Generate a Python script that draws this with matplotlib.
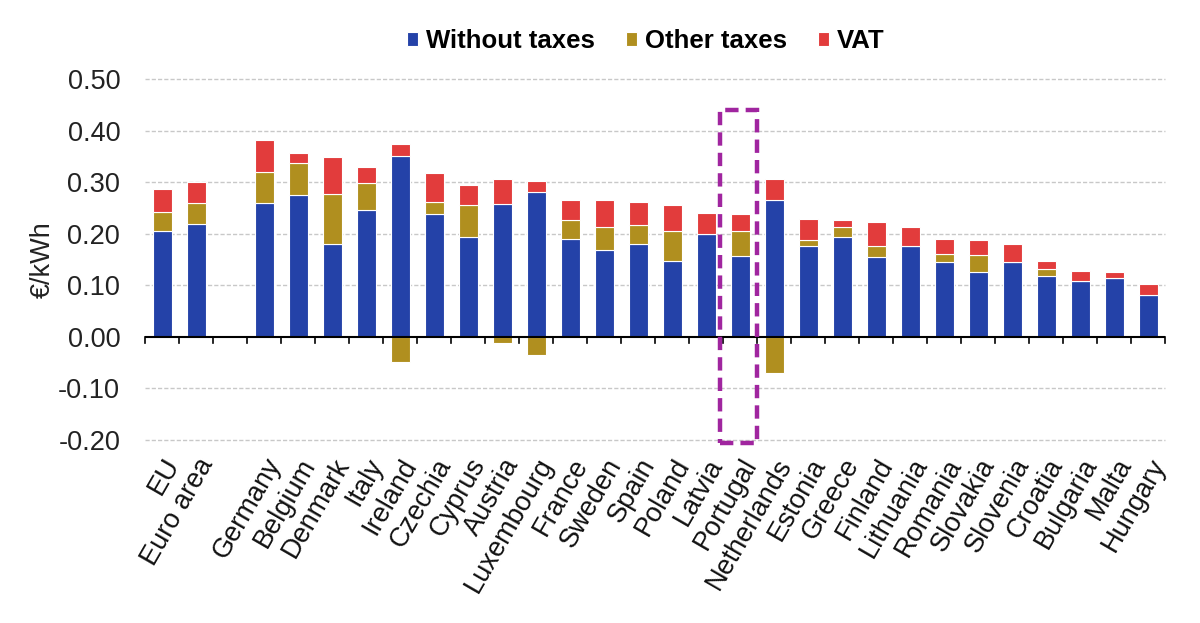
import numpy as np
import matplotlib
matplotlib.use('Agg')
import matplotlib.pyplot as plt
from matplotlib.patches import Rectangle

plt.rcParams['font.family'] = ['Liberation Sans', 'DejaVu Sans']

# data (EUR/kWh), '' = empty slot between aggregates and countries
countries = ['EU', 'Euro area', '', 'Germany', 'Belgium', 'Denmark', 'Italy', 'Ireland',
             'Czechia', 'Cyprus', 'Austria', 'Luxembourg', 'France', 'Sweden', 'Spain',
             'Poland', 'Latvia', 'Portugal', 'Netherlands', 'Estonia', 'Greece', 'Finland',
             'Lithuania', 'Romania', 'Slovakia', 'Slovenia', 'Croatia', 'Bulgaria', 'Malta',
             'Hungary']
without_taxes = [0.205, 0.219, np.nan, 0.259, 0.275, 0.181, 0.246, 0.350,
                 0.239, 0.193, 0.258, 0.281, 0.190, 0.169, 0.180,
                 0.148, 0.200, 0.157, 0.265, 0.176, 0.193, 0.154,
                 0.176, 0.145, 0.125, 0.145, 0.117, 0.109, 0.115, 0.082]
other_taxes = [0.037, 0.040, np.nan, 0.061, 0.062, 0.097, 0.052, -0.048,
               0.022, 0.062, -0.012, -0.035, 0.036, 0.044, 0.037,
               0.058, 0.0, 0.049, -0.071, 0.011, 0.020, 0.023,
               0.0, 0.016, 0.033, 0.0, 0.015, 0.0, 0.0, 0.0]
vat = [0.045, 0.041, np.nan, 0.062, 0.019, 0.071, 0.031, 0.025,
       0.056, 0.039, 0.049, 0.022, 0.039, 0.052, 0.044,
       0.049, 0.041, 0.033, 0.042, 0.042, 0.013, 0.045,
       0.037, 0.029, 0.029, 0.035, 0.016, 0.019, 0.011, 0.020]
highlight = 'Portugal'

c_blue = '#2442a8'
c_gold = '#b08f1f'
c_red = '#e23c3c'

x = np.arange(len(countries))
wt = np.array(without_taxes)
ot = np.array(other_taxes)
va = np.array(vat)

# positive other taxes sit on top of the price, negative ones hang below zero
ot_bottom = np.where(ot >= 0, wt, 0)
vat_bottom = wt + np.where(ot >= 0, ot, 0)

fig = plt.figure(figsize=(12, 6.23), dpi=100)
ax = fig.add_axes([0.121, 0.294, 0.850, 0.579])

w = 0.55
ax.bar(x, wt, w, color=c_blue, edgecolor='white', linewidth=0.8, label='Without taxes', zorder=3)
ax.bar(x, ot, w, bottom=ot_bottom, color=c_gold, edgecolor='white', linewidth=0.8,
       label='Other taxes', zorder=3)
ax.bar(x, va, w, bottom=vat_bottom, color=c_red, edgecolor='white', linewidth=0.8,
       label='VAT', zorder=3)

ax.set_xlim(-0.5, len(countries) - 0.5)
ax.set_ylim(-0.2, 0.5)
ax.set_yticks(np.arange(-0.2, 0.51, 0.1))
ax.set_yticklabels(['%.2f' % v for v in np.arange(-0.2, 0.51, 0.1)], fontsize=19.5, color='#222222')
ax.set_ylabel('€/kWh', fontsize=19.5, color='#222222')
ax.yaxis.set_label_coords(-0.088, 0.5)

for v in np.arange(-0.2, 0.51, 0.1):
    if abs(v) > 1e-9:
        ax.axhline(v, color='#c8c8c8', linestyle=(0, (3, 1.5)), linewidth=1.0, zorder=1,
                   clip_on=False)
ax.axhline(0, color='black', linewidth=1.5, zorder=4)

for s in ['top', 'right', 'left', 'bottom']:
    ax.spines[s].set_visible(False)
ax.tick_params(axis='y', length=0, pad=18)

# tick marks at slot edges hanging off the zero line, labels at bar centres
ax.set_xticks(x)
ax.set_xticklabels(countries, rotation=60, ha='right', rotation_mode='anchor',
                   fontsize=19.5, color='#111111')
ax.tick_params(axis='x', length=0, pad=10)
edges = np.arange(-0.5, len(countries), 1.0)
for e in edges:
    ax.plot([e, e], [0, -0.012], color='black', linewidth=1.2, zorder=4, clip_on=False)

# dashed box around the highlighted country
i = countries.index(highlight)
box = Rectangle((i - 0.6, -0.206), 1.1, 0.646, fill=False, edgecolor='#a0259f',
                linewidth=3.2, linestyle=(0, (3, 1.6)), zorder=5, clip_on=False)
ax.add_patch(box)

leg = fig.legend(loc='upper center', bbox_to_anchor=(0.538, 0.99), ncol=3, frameon=False,
                 prop={'size': 18.5, 'weight': 'bold'}, handlelength=0.45, handleheight=0.45,
                 handletextpad=0.3, columnspacing=1.2)

fig.savefig('out.png', dpi=100)
